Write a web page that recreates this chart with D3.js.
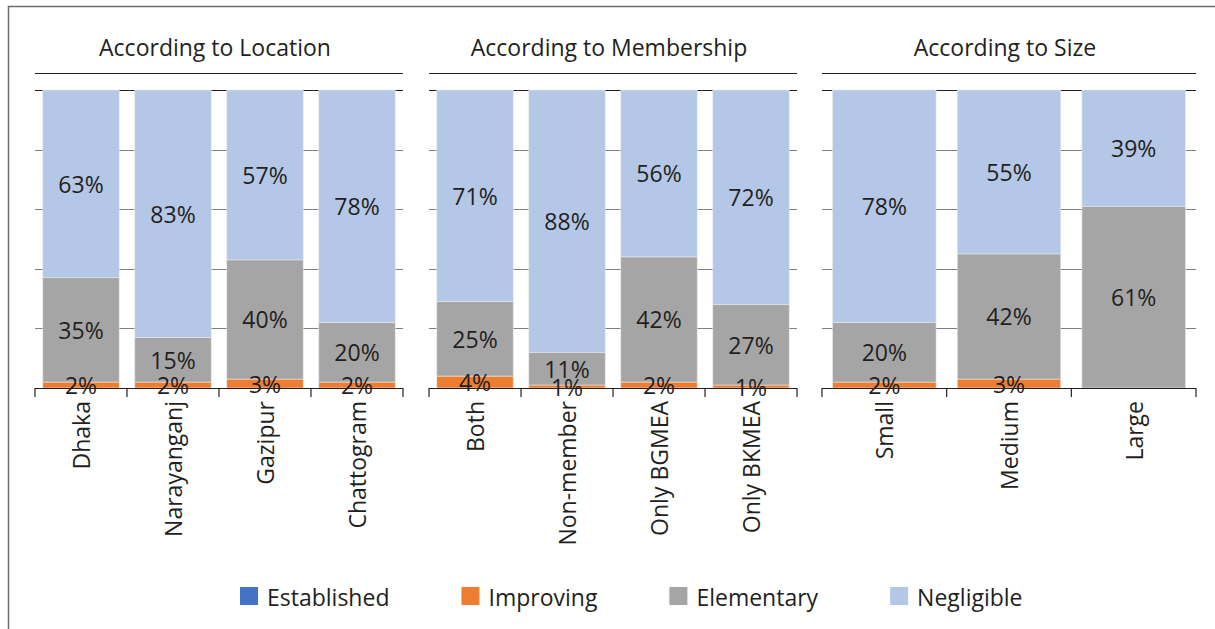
<!DOCTYPE html>
<html>
<head>
<meta charset="utf-8">
<script src="https://cdn.jsdelivr.net/npm/d3@7"></script>
<style>
  html, body { margin: 0; padding: 0; background: #fff; }
  svg { display: block; }
  text { font-family: "Open Sans", "Noto Sans", sans-serif; fill: #231f20; }
</style>
</head>
<body>
<svg id="chart" width="1215" height="629"></svg>
<script>
// Series (stack order bottom to top)
const seriesNames = ["Established", "Improving", "Elementary", "Negligible"];
const seriesColors = ["#4472c4", "#ed7d31", "#a5a5a5", "#b4c7e7"];

// Panel titles
const panelTitles = ["According to Location", "According to Membership", "According to Size"];

// According to Location
const locationCategories = ["Dhaka", "Narayanganj", "Gazipur", "Chattogram"];
const locationEstablished = [0, 0, 0, 0];
const locationImproving = [2, 2, 3, 2];
const locationElementary = [35, 15, 40, 20];
const locationNegligible = [63, 83, 57, 78];

// According to Membership
const membershipCategories = ["Both", "Non-member", "Only BGMEA", "Only BKMEA"];
const membershipEstablished = [0, 0, 0, 0];
const membershipImproving = [4, 1, 2, 1];
const membershipElementary = [25, 11, 42, 27];
const membershipNegligible = [71, 88, 56, 72];

// According to Size
const sizeCategories = ["Small", "Medium", "Large"];
const sizeEstablished = [0, 0, 0];
const sizeImproving = [2, 3, 0];
const sizeElementary = [20, 42, 61];
const sizeNegligible = [78, 55, 39];

// Gridline values (percent)
const yTicks = [0, 20, 40, 60, 80, 100];

const panels = [
  { title: panelTitles[0], cats: locationCategories,
    values: [locationEstablished, locationImproving, locationElementary, locationNegligible], x0: 35, x1: 403 },
  { title: panelTitles[1], cats: membershipCategories,
    values: [membershipEstablished, membershipImproving, membershipElementary, membershipNegligible], x0: 429, x1: 797 },
  { title: panelTitles[2], cats: sizeCategories,
    values: [sizeEstablished, sizeImproving, sizeElementary, sizeNegligible], x0: 822, x1: 1196 }
];

const FONT = "23px";
const svg = d3.select("#chart");
const plotTop = 90, plotBottom = 388;
const y = d3.scaleLinear().domain([0, 100]).range([plotBottom, plotTop]);

// Outer frame (left and top edges)
svg.append("path")
  .attr("d", "M8.5,629 V6.5 H1215")
  .attr("fill", "none").attr("stroke", "#6d6d6d").attr("stroke-width", 1.5);

panels.forEach(p => {
  const g = svg.append("g");
  const x = d3.scaleBand().domain(p.cats).range([p.x0, p.x1]).paddingInner(0.17).paddingOuter(0.085);

  // Title and underline
  g.append("text")
    .attr("x", (p.x0 + p.x1) / 2 - 4).attr("y", 56)
    .attr("text-anchor", "middle").style("font-size", FONT)
    .text(p.title);
  g.append("line")
    .attr("x1", p.x0).attr("x2", p.x1).attr("y1", 73.5).attr("y2", 73.5)
    .attr("stroke", "#231f20").attr("stroke-width", 1.2);

  // Horizontal gridlines
  g.selectAll("line.grid").data(yTicks.filter(t => t > 0)).join("line")
    .attr("class", "grid")
    .attr("x1", p.x0).attr("x2", p.x1)
    .attr("y1", d => Math.round(y(d)) + 0.5).attr("y2", d => Math.round(y(d)) + 0.5)
    .attr("stroke", d => d === 100 ? "#231f20" : "#808080").attr("stroke-width", 1.2);

  // Stacked data
  const rows = p.cats.map((c, i) => {
    const r = { cat: c };
    seriesNames.forEach((s, k) => r[s] = p.values[k][i]);
    return r;
  });
  const stacked = d3.stack().keys(seriesNames)(rows);

  const layers = g.selectAll("g.layer").data(stacked).join("g")
    .attr("class", "layer")
    .attr("fill", (d, i) => seriesColors[i]);
  layers.selectAll("rect").data(d => d).join("rect")
    .attr("x", d => x(d.data.cat))
    .attr("width", x.bandwidth())
    .attr("y", d => y(d[1]))
    .attr("height", d => Math.max(0, y(d[0]) - y(d[1])))
    .attr("stroke", "#e6e6e6").attr("stroke-width", 0.6);

  // Value labels, centred in each segment
  stacked.forEach(layer => {
    layer.forEach(d => {
      const v = d[1] - d[0];
      if (v <= 0) return;
      g.append("text")
        .attr("x", x(d.data.cat) + x.bandwidth() / 2)
        .attr("y", (y(d[0]) + y(d[1])) / 2)
        .attr("text-anchor", "middle").attr("dominant-baseline", "central")
        .style("font-size", FONT)
        .text(v + "%");
    });
  });

  // Category axis
  const axis = g.append("g");
  axis.append("line")
    .attr("x1", p.x0).attr("x2", p.x1).attr("y1", plotBottom + 0.5).attr("y2", plotBottom + 0.5)
    .attr("stroke", "#231f20").attr("stroke-width", 1.2);
  const step = x.step();
  const bounds = p.cats.map(c => x(c) - x.paddingInner() * step / 2).concat([p.x1]);
  bounds[0] = p.x0;
  axis.selectAll("line.tick").data(bounds).join("line")
    .attr("class", "tick")
    .attr("x1", d => d).attr("x2", d => d)
    .attr("y1", plotBottom).attr("y2", plotBottom + 9)
    .attr("stroke", "#231f20").attr("stroke-width", 1.2);
  axis.selectAll("text").data(p.cats).join("text")
    .attr("transform", d => `translate(${x(d) + x.bandwidth() / 2},401) rotate(-90)`)
    .attr("text-anchor", "end").attr("dominant-baseline", "central")
    .style("font-size", FONT)
    .text(d => d);
});

// Legend
const legend = svg.append("g");
let lx = 240;
seriesNames.forEach((s, i) => {
  legend.append("rect")
    .attr("x", lx).attr("y", 587).attr("width", 18).attr("height", 18)
    .attr("fill", seriesColors[i]);
  const t = legend.append("text")
    .attr("x", lx + 27).attr("y", 597)
    .attr("dominant-baseline", "central")
    .style("font-size", FONT)
    .text(s);
  lx += 27 + t.node().getComputedTextLength() + 72;
});
</script>
</body>
</html>
